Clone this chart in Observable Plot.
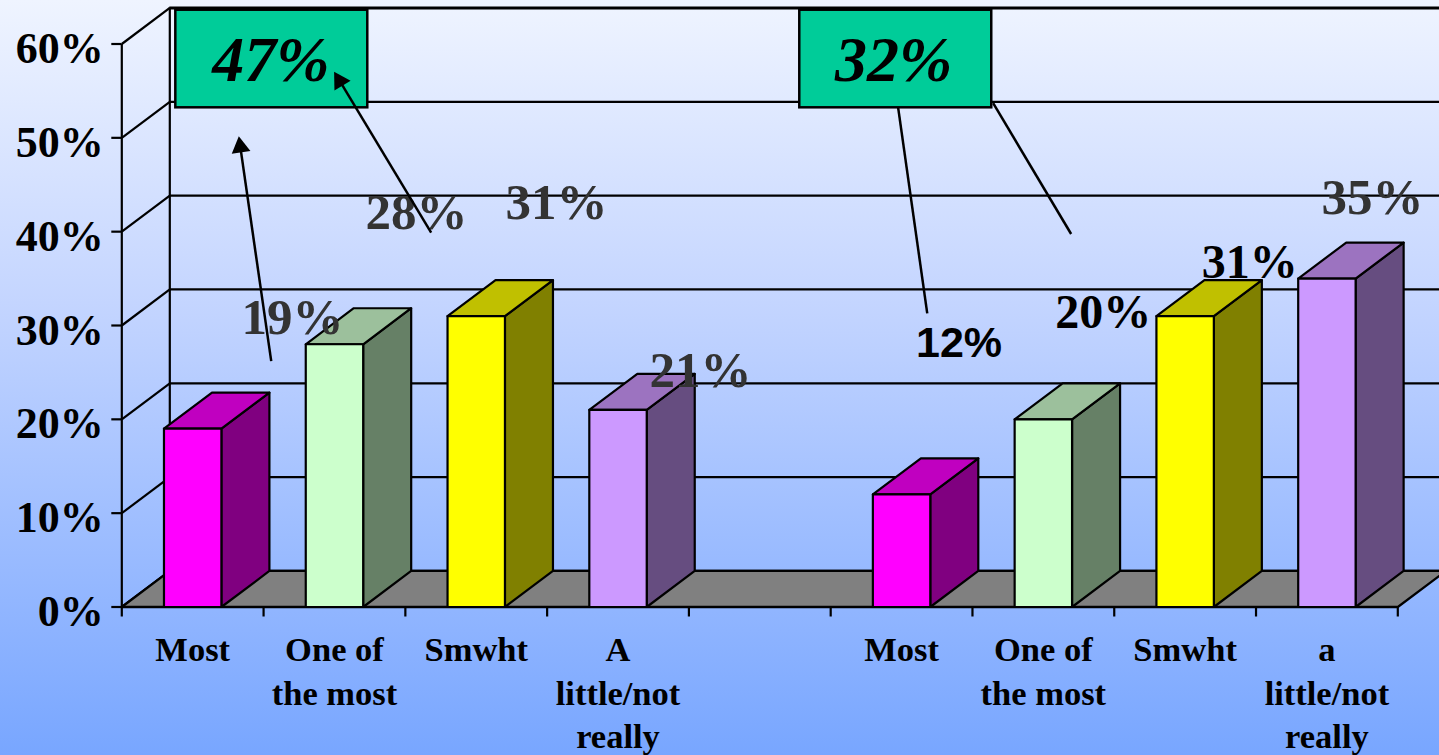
<!DOCTYPE html>
<html>
<head>
<meta charset="utf-8">
<script src="https://cdn.jsdelivr.net/npm/d3@7"></script>
<script src="https://cdn.jsdelivr.net/npm/@observablehq/plot@0.6"></script>
<style>
html,body{margin:0;padding:0;width:1439px;height:755px;overflow:hidden;background:linear-gradient(#eff4ff 0%,#c4d5ff 40%,#78a6ff 100%);}
svg{display:block;}
</style>
</head>
<body>
<div id="chart"></div>
<script>
// Values
const categories = ["Most","One of\nthe most","Smwht","A\nlittle/not\nreally","Most","One of\nthe most","Smwht","a\nlittle/not\nreally"];
const slots = [0,1,2,3,5,6,7,8];
const values = [19,28,31,21,12,20,31,35];
const valueLabels = ["19%","28%","31%","21%","12%","20%","31%","35%"];
const yTicks = [0,10,20,30,40,50,60];
const xTicks = [0,1,2,3,4,5,6,7,8,9];
const summaries = ["47%","32%"];

// Read positions of the free-floating annotations, in chart units (slot, percent)
const labelSlot  = [1.204,2.078,3.066,4.081,5.905,6.923,7.955,8.822];
const labelLevel = [30.8,42.0,43.05,25.15,28.1,31.4,36.66,43.6];
const labelFill  = ["#333","#333","#333","#333","#000","#000","#000","#333"];
const labelFont  = ["grey","grey","grey","grey","sans","black","black","grey"];
const summarySlot = [1.051,5.445];
const summaryBox = [[0.381,1.735],[4.782,6.136]];
const leaders = [
  {x1:1.054,y1:26.2,x2:0.836,y2:49.03,head:-8},
  {x1:2.182,y1:39.9,x2:1.537,y2:56.06,head:-31},
  {x1:5.476,y1:53.2,x2:5.681,y2:31.3},
  {x1:6.146,y1:53.7,x2:6.696,y2:39.75}
];

// Styling
const front = ["#ff00ff","#ccffcc","#ffff00","#cc99ff"];
const topFace = ["#c000c0","#9cc09c","#c0c000","#9c73c0"];
const sideFace = ["#800080","#668066","#808000","#664d80"];
const depthX = 0.3386, depthY = 3.84, barW = 0.405;
const serif = "'Liberation Serif','Times New Roman',serif";
const sans = "'Liberation Sans',Arial,sans-serif";

// Faces
const faces = [];
function face(id, fill, pts){ pts.forEach(([x,y]) => faces.push({id,fill,x,y})); }
values.forEach((v,i) => {
  const a = slots[i] + 0.5 - barW/2, b = a + barW, c = i % 4;
  face(`s${i}`, sideFace[c], [[b,0],[b+depthX,depthY],[b+depthX,v+depthY],[b,v]]);
  face(`t${i}`, topFace[c], [[a,v],[b,v],[b+depthX,v+depthY],[a+depthX,v+depthY]]);
  face(`f${i}`, front[c], [[a,0],[b,0],[b,v],[a,v]]);
});
const floor = [[0,0],[9,0],[9+depthX,depthY],[depthX,depthY]].map(([x,y]) => ({x,y}));

const bars = values.map((v,i) => ({v,i,slot:slots[i]+0.5,cat:categories[i],lab:valueLabels[i],lx:labelSlot[i],ly:labelLevel[i],fill:labelFill[i],font:labelFont[i]}));
const boxes = summaries.map((s,i) => ({s,x:summarySlot[i],x1:summaryBox[i][0],x2:summaryBox[i][1]}));
const heads = leaders.filter(d => d.head !== undefined);

const chart = Plot.plot({
  width:1439, height:755,
  marginLeft:121.3, marginRight:41.7, marginTop:43.5, marginBottom:148.5,
  x:{domain:[0,9],axis:null},
  y:{domain:[0,60],axis:null},
  style:{background:"transparent",color:"#000"},
  marks:[
    // back wall grid
    Plot.ruleY(yTicks,{y:d=>d+depthY,x1:depthX,x2:9+depthX,stroke:"#000",strokeWidth:d=>d===60?3:2.2,strokeOpacity:1}),
    Plot.ruleX([depthX],{y1:depthY,y2:60+depthY,stroke:"#000",strokeWidth:2.2}),
    Plot.link(yTicks,{x1:0,y1:d=>d,x2:depthX,y2:d=>d+depthY,stroke:"#000",strokeWidth:2.2}),
    Plot.ruleX([0],{y1:0,y2:60,stroke:"#000",strokeWidth:2.2}),
    // floor
    Plot.line(floor,{x:"x",y:"y",fill:"#808080",stroke:"#000",strokeWidth:2.2,curve:"linear-closed"}),
    // axes
    Plot.axisY(yTicks,{anchor:"left",tickSize:10,label:null,tickFormat:()=>"",strokeWidth:2.2}),
    Plot.axisY(yTicks,{anchor:"left",tickSize:0,tickPadding:18,label:null,tickFormat:d=>d+"%",fontSize:44,fontWeight:"bold",fontFamily:serif,dy:5}),
    Plot.axisX(xTicks,{anchor:"bottom",tickSize:10,label:null,tickFormat:()=>"",strokeWidth:2.2}),
    Plot.ruleY([0],{stroke:"#000",strokeWidth:2.5}),
    // bars
    Plot.line(faces,{x:"x",y:"y",z:"id",fill:d=>d.fill,stroke:"#000",strokeWidth:2.2,curve:"linear-closed",strokeLinejoin:"round"}),
    // category labels
    Plot.text(bars,{x:"slot",y:-2.42,text:"cat",lineAnchor:"top",lineHeight:1.27,fontSize:34.5,fontWeight:"bold",fontFamily:serif,fill:"#000"}),
    // summary boxes
    Plot.rect(boxes,{x1:"x1",x2:"x2",y1:53.2,y2:63.6,fill:"#00cc99",stroke:"#000",strokeWidth:2.5}),
    Plot.text(boxes,{x:"x",y:58.2,text:"s",fontSize:64,fontWeight:"bold",fontStyle:"italic",fontFamily:serif,fill:"#000"}),
    // value labels
    Plot.text(bars.filter(d=>d.font==="grey"),{x:"lx",y:"ly",text:"lab",fill:"fill",fontSize:51,fontWeight:"bold",fontFamily:serif}),
    Plot.text(bars.filter(d=>d.font==="black"),{x:"lx",y:"ly",text:"lab",fill:"fill",fontSize:48,fontWeight:"bold",fontFamily:serif}),
    Plot.text(bars.filter(d=>d.font==="sans"),{x:"lx",y:"ly",text:"lab",fill:"fill",fontSize:43,fontWeight:"bold",fontFamily:sans}),
    // leaders
    Plot.link(leaders,{x1:"x1",y1:"y1",x2:"x2",y2:"y2",stroke:"#000",strokeWidth:2.5}),
    Plot.dot(heads,{x:"x2",y:"y2",symbol:"triangle",r:7,fill:"#000",stroke:"none",rotate:"head"})
  ]
});
document.getElementById("chart").append(chart);
</script>
</body>
</html>
